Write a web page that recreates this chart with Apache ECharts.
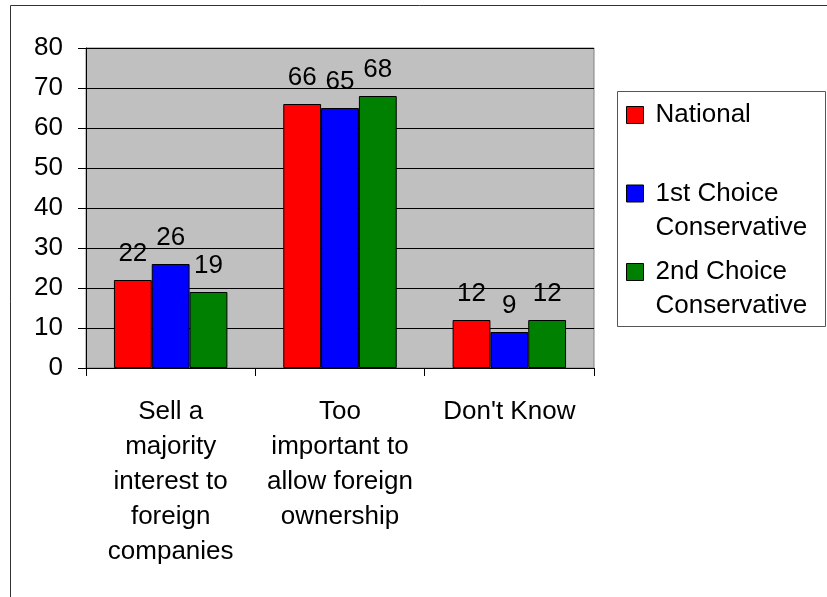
<!DOCTYPE html>
<html>
<head>
<meta charset="utf-8">
<script src="https://cdn.jsdelivr.net/npm/echarts@6/dist/echarts.min.js"></script>
<style>
  html, body { margin: 0; padding: 0; background: #fff; }
  #chart { width: 827px; height: 597px; }
</style>
</head>
<body>
<div id="chart"></div>
<script>
// values
let categories = [
    'Sell a\nmajority\ninterest to\nforeign\ncompanies',
    'Too\nimportant to\nallow foreign\nownership',
    "Don't Know"
]
let seriesNames = ['National', '1st Choice\nConservative', '2nd Choice\nConservative']
let national = [22, 66, 12]
let firstChoice = [26, 65, 9]
let secondChoice = [19, 68, 12]
let colors = ['#FF0000', '#0000FF', '#008000']

let font = 'Liberation Sans, Arial, sans-serif'
let fs = 26
let L = 34

let myChart = echarts.init(document.getElementById('chart'))

function barSeries(name, data, color) {
    return {
        name: name,
        type: 'bar',
        data: data,
        barGap: '0%',
        barCategoryGap: '33%',
        itemStyle: { color: color, borderColor: '#000', borderWidth: 1 },
        label: {
            show: true,
            position: 'top',
            distance: 13,
            color: '#000',
            fontFamily: font,
            fontSize: fs
        }
    }
}

let option = {
    animation: false,
    backgroundColor: '#fff',
    textStyle: { fontFamily: font },
    grid: {
        left: 86,
        top: 48,
        width: 508,
        height: 320,
        show: true,
        backgroundColor: '#C0C0C0',
        borderColor: '#808080',
        borderWidth: 1
    },
    legend: {
        orient: 'vertical',
        left: 626,
        top: 115 - 1.5 * L,
        padding: 0,
        itemGap: 78.5 - 3 * L,
        itemWidth: 17,
        itemHeight: 17,
        icon: 'rect',
        itemStyle: { borderColor: '#000', borderWidth: 1 },
        // every item is three lines high so the square sits on the first text line
        formatter: function (name) {
            return name.indexOf('\n') >= 0 ? '\n' + name : '\n' + name + '\n'
        },
        textStyle: { fontFamily: font, fontSize: fs, color: '#000', lineHeight: L, padding: [0, 0, 0, 7] },
        data: seriesNames
    },
    graphic: [
        {
            type: 'rect',
            shape: { x: 10.5, y: 5.5, width: 900, height: 700 },
            style: { fill: null, stroke: '#333', lineWidth: 1 },
            silent: true
        },
        {
            type: 'rect',
            shape: { x: 617.5, y: 91.5, width: 208, height: 235 },
            style: { fill: null, stroke: '#555', lineWidth: 1 },
            silent: true
        }
    ],
    xAxis: {
        type: 'category',
        data: categories,
        axisLine: { lineStyle: { color: '#000' } },
        axisTick: { show: true, length: 8, lineStyle: { color: '#000' } },
        axisLabel: {
            interval: 0,
            margin: 26,
            color: '#000',
            fontFamily: font,
            fontSize: fs,
            lineHeight: 35,
            align: 'center'
        }
    },
    yAxis: {
        type: 'value',
        min: 0,
        max: 80,
        interval: 10,
        axisLine: { show: true, lineStyle: { color: '#000' } },
        axisTick: { show: true, length: 8, lineStyle: { color: '#000' } },
        axisLabel: { margin: 23, color: '#000', fontFamily: font, fontSize: fs },
        splitLine: { show: true, lineStyle: { color: '#000', width: 1 } }
    },
    series: [
        barSeries(seriesNames[0], national, colors[0]),
        barSeries(seriesNames[1], firstChoice, colors[1]),
        barSeries(seriesNames[2], secondChoice, colors[2])
    ]
}
myChart.setOption(option)
</script>
</body>
</html>
